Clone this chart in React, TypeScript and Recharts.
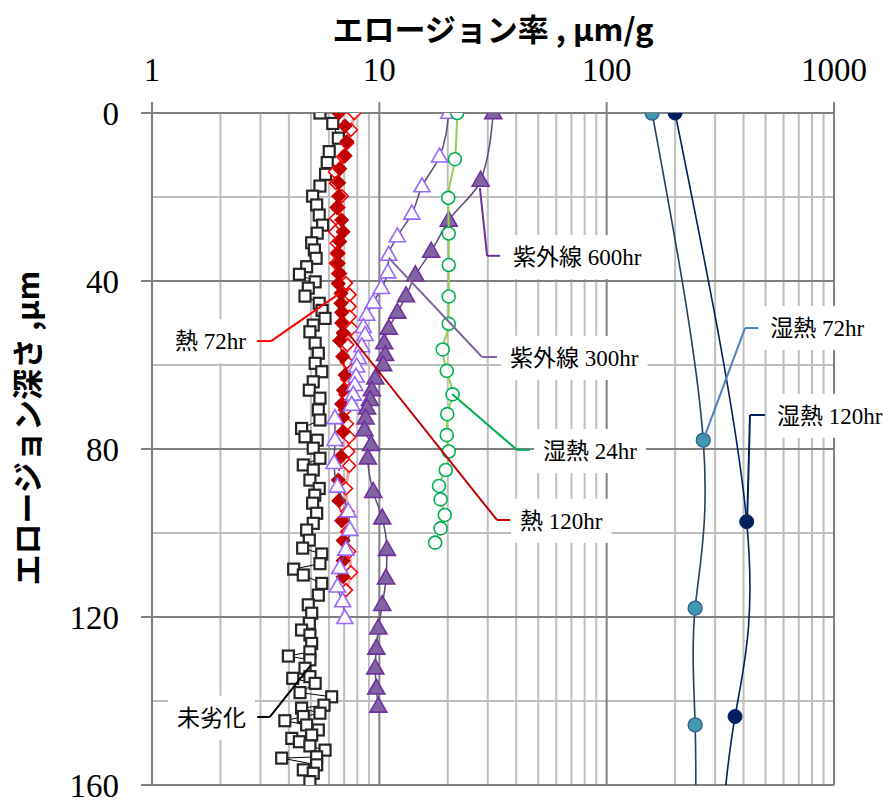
import React from 'react';
import { ScatterChart, Scatter, XAxis, YAxis, ReferenceLine, ReferenceDot } from 'recharts';

// 深さ (μm) とエロージョン率 (μm/g)
const undegradedDepth = [0, 2.5, 6, 9.2, 11.8, 14.6, 17.4, 19.8, 21.9, 24.3, 26.7, 28.6, 30.9, 32.6, 34.6, 36.6, 38.4, 40.2, 41.7, 43.6, 45.3, 47, 48.9, 50.5, 52.1, 54.8, 57.2, 59.6, 61.6, 64, 66, 67.9, 70.7, 73.1, 75.1, 77.1, 77.9, 79.8, 82.2, 83.8, 85, 87.4, 89.4, 91, 92.9, 95.3, 97.7, 99.3, 101.7, 103.6, 105, 107.3, 108.6, 110, 112, 114.8, 117.1, 119.1, 121.5, 123.1, 124.3, 126.3, 128.3, 129.3, 130.2, 132.2, 134.2, 134.6, 135.8, 138, 139, 141, 141.7, 142.9, 143.7, 144.7, 145.7, 146.9, 148.1, 148.9, 149.7, 150.7, 151.7, 153.3, 153.6, 155.2, 156.4, 157.2, 159.2];
const undegradedRate = [5.48, 6.24, 6.6, 6.02, 5.9, 5.8, 5.48, 5.09, 5.3, 5.44, 5.63, 5.33, 5.04, 5.18, 5.27, 4.79, 4.45, 5.22, 4.87, 4.71, 5.44, 5.6, 5.77, 5.12, 4.95, 5.22, 5.39, 5.22, 5.58, 5.12, 4.92, 5.48, 5.39, 5.48, 4.55, 4.71, 5.33, 5.12, 5.48, 4.63, 5.12, 4.95, 5.44, 5.2, 5.09, 5.3, 5.12, 4.79, 4.92, 4.6, 5.58, 5.48, 4.2, 4.63, 5.58, 5.39, 4.87, 5.04, 4.92, 4.55, 4.95, 5.04, 4.95, 3.98, 4.95, 4.71, 4.95, 4.16, 5.22, 4.48, 6.17, 5.71, 4.55, 5.48, 4.63, 3.84, 4.79, 5.39, 5.04, 4.12, 4.45, 4.95, 5.77, 5.3, 3.72, 5.3, 4.63, 5.12, 4.95];

const heat72Depth = [0, 4, 7.2, 10.4, 14, 16.7, 19.8, 22.5, 25.1, 28.3, 31, 33.4, 35.8, 38.2, 40.5, 43.3, 46.1, 48.5, 51.3, 55.2, 59.3, 63.4, 67, 70.7, 74, 77.2, 80.6, 84, 89.4, 94.9, 99.7, 104.4, 109.4, 113.6];
const heat72Rate = [7.76, 7.5, 7.2, 6.93, 6.38, 6.45, 6.83, 6.6, 6.45, 6.4, 6.5, 6.5, 6.45, 6.6, 7.13, 7.4, 7.4, 7.4, 7.56, 7.23, 7.2, 7.23, 7.1, 7.07, 7.2, 7.37, 7.3, 7.37, 7.13, 7.23, 7.23, 7.37, 7.5, 7.13];

const heat120Depth = [0, 3.1, 6.8, 10.2, 13.3, 16.6, 19.8, 22.5, 25.5, 28.3, 30.6, 33.4, 35.8, 38.2, 40.6, 42.9, 45.3, 47.5, 50, 52.4, 54.2, 58, 62.4, 66, 69.3, 72.5, 75.9, 81.8, 87.4, 92.3, 97.1, 101.8, 106.6, 110.4];
const heat120Rate = [6.63, 7.07, 7.2, 7.07, 6.7, 6.63, 6.63, 6.5, 6.83, 6.93, 6.7, 6.6, 6.6, 6.7, 6.6, 6.78, 6.78, 6.83, 6.83, 6.93, 6.7, 6.9, 7.07, 6.95, 6.83, 6.9, 6.93, 6.78, 6.6, 6.64, 6.83, 6.93, 6.93, 6.93];

const uv300Depth = [0, 10.4, 17.5, 24, 29.4, 33.8, 38, 41.7, 45.2, 48.1, 51, 52.9, 55.6, 58.4, 60.4, 62.8, 64.8, 67.1, 69.5, 72.7, 77.9, 83.4, 89, 94.9, 99.3, 104, 108.4, 112.8, 116.3, 120.3];
const uv300Rate = [20.2, 18.4, 15.4, 13.9, 12.0, 11.0, 10.9, 10.2, 9.4, 8.8, 8.5, 8.66, 8.37, 8.09, 7.95, 7.9, 7.8, 7.68, 7.56, 6.38, 6.38, 6.32, 6.54, 7.3, 7.42, 7.13, 6.7, 6.54, 6.9, 7.05];

const uv600Depth = [0, 16.1, 25.6, 33, 38.6, 43.6, 47.5, 51.3, 54.8, 57.6, 60, 63.2, 66, 68.3, 70.3, 72.7, 75.5, 79, 82.2, 90.2, 96.5, 104, 110.8, 117.1, 122.7, 127.5, 132.2, 137, 141.3];
const uv600Rate = [31.7, 27.9, 20.2, 16.9, 14.4, 13.1, 12.0, 11.0, 10.5, 10.6, 10.4, 9.6, 9.27, 9.1, 8.83, 8.7, 8.6, 9.2, 8.9, 9.4, 10.3, 10.8, 10.7, 10.3, 9.9, 9.7, 9.6, 9.7, 9.9];

const humid24Depth = [0, 11, 20.2, 28.7, 36.2, 43.7, 50.2, 56.3, 61.4, 67, 71.7, 76.7, 80.6, 85, 88.8, 92, 95.7, 98.9, 102.3];
const humid24Rate = [22.0, 21.5, 20.1, 20.2, 20.2, 20.2, 20.2, 19.0, 19.8, 21.0, 19.9, 19.8, 20.2, 19.6, 18.3, 18.6, 19.4, 18.6, 17.6];

const humid72Depth = [0, 77.9, 117.9, 145.7, 175];
const humid72Rate = [158.5, 266, 245, 245, 246];

const humid120Depth = [0, 97.3, 143.7, 180];
const humid120Rate = [200, 413, 367, 310];

const xTicks = [1, 10, 100, 1000];
const yTicks = [0, 40, 80, 120, 160];
const xMinor = [2, 3, 4, 5, 6, 7, 8, 9, 20, 30, 40, 50, 60, 70, 80, 90, 200, 300, 400, 500, 600, 700, 800, 900];
const yMinor = [20, 60, 100, 140];

// 注記ラベル: 文字位置 (率, 深さ) と引出線の折れ点
const labelText = ['未劣化', '熱 72hr', '熱 120hr', '紫外線 300hr', '紫外線 600hr', '湿熱 24hr', '湿熱 72hr', '湿熱 120hr'];
const labelAt: [number, number][] = [[2.59, 144], [2.59, 54.3], [41.6, 97.1], [37.6, 58.3], [38.7, 34.3], [52.5, 80.5], [524, 51.2], [562, 72.1]];
const labelEnd = [true, true, false, false, false, false, false, false];
const calloutPath: [number, number][][] = [
  [[4.96, 131.7], [3.3, 143.8], [2.9, 143.8]],
  [[6.72, 42.9], [3.34, 54.3], [2.9, 54.3]],
  [[6.72, 50], [32.9, 96.9], [37.6, 96.9]],
  [[11.0, 34.5], [28.3, 58.1], [32.9, 58.1]],
  [[27.7, 17.9], [29.8, 34.0], [34.0, 34.0]],
  [[20.9, 66.9], [40.3, 80.2], [46.0, 80.2]],
  [[266, 77.9], [406, 51.2], [464, 51.2]],
  [[415, 97.1], [427, 71.9], [497, 71.9]],
];
const calloutColor = ['#000000', '#ff0000', '#c00000', '#8064a2', '#7030a0', '#00b050', '#4f81bd', '#002060'];

const toPts = (d: number[], v: number[]) => d.map((y, i) => ({ d: y, v: v[i] }));

const serif = '"Liberation Serif", "Times New Roman", "Noto Sans CJK JP", serif';
const gothic = '"Noto Sans CJK JP", "Noto Sans", sans-serif';

const squareShape = (p: any) => (
  <rect x={p.cx - 5.5} y={p.cy - 5.5} width={11} height={11} fill="#ffffff" stroke="#262626" strokeWidth={2.2} />
);
const diamondShape = (fill: string, stroke: string, r: number) => (p: any) => (
  <path d={`M${p.cx},${p.cy - r}L${p.cx + r},${p.cy}L${p.cx},${p.cy + r}L${p.cx - r},${p.cy}Z`} fill={fill} stroke={stroke} strokeWidth={1.6} />
);
const triangleShape = (fill: string, stroke: string, w: number) => (p: any) => {
  const h = w * 0.87;
  return (
    <path d={`M${p.cx},${p.cy - h * 0.62}L${p.cx + w / 2},${p.cy + h * 0.38}L${p.cx - w / 2},${p.cy + h * 0.38}Z`} fill={fill} stroke={stroke} strokeWidth={1.6} />
  );
};
const circleShape = (fill: string, stroke: string, r: number, sw: number) => (p: any) => (
  <circle cx={p.cx} cy={p.cy} r={r} fill={fill} stroke={stroke} strokeWidth={sw} />
);

const textWidth = (s: string, size: number) => {
  let w = 0;
  for (const ch of s) {
    if (ch === ' ') w += size * 0.25;
    else if (/[0-9h]/.test(ch)) w += size * 0.5;
    else if (ch === 'r') w += size * 0.333;
    else w += size;
  }
  return w;
};

function LabelBox({ cx, cy, text, end }: { cx: number; cy: number; text: string; end: boolean }) {
  const size = 23;
  const w = textWidth(text, size);
  const x0 = end ? cx - w : cx;
  return (
    <g>
      <rect x={x0 - 9} y={cy - 22} width={w + 18} height={44} fill="#ffffff" />
      <text x={x0} y={cy} dy="0.36em" fontSize={size} fontFamily={serif} fill="#000000">
        {text}
      </text>
    </g>
  );
}

export default function App() {
  return (
    <div style={{ position: 'absolute', left: 0, top: 0, width: 891, height: 807, background: '#ffffff' }}>
      <ScatterChart width={891} height={807} margin={{ top: 0, right: 57, bottom: 22, left: 0 }}>
        <XAxis
          type="number"
          dataKey="v"
          scale="log"
          domain={[1, 1000]}
          ticks={xTicks}
          orientation="top"
          height={113}
          allowDataOverflow
          axisLine={false}
          tickSize={11}
          tickLine={{ stroke: '#808080', strokeWidth: 2 }}
          tick={(p: any) => (
            <text x={p.x} y={81} textAnchor="middle" fontSize={33} fontFamily={serif} fill="#000000">
              {p.payload.value}
            </text>
          )}
        />
        <YAxis
          type="number"
          dataKey="d"
          domain={[0, 160]}
          ticks={yTicks}
          reversed
          width={152}
          allowDataOverflow
          axisLine={false}
          tickSize={11}
          tickLine={{ stroke: '#808080', strokeWidth: 2 }}
          tick={(p: any) => (
            <text x={119} y={p.y} dy="0.36em" textAnchor="end" fontSize={33} fontFamily={serif} fill="#000000">
              {p.payload.value}
            </text>
          )}
        />
        {xMinor.map((v) => (
          <ReferenceLine key={`xm${v}`} x={v} stroke="#bfbfbf" strokeWidth={2} zIndex={-100} />
        ))}
        {yMinor.map((v) => (
          <ReferenceLine key={`ym${v}`} y={v} stroke="#bfbfbf" strokeWidth={2} zIndex={-100} />
        ))}
        {xTicks.map((v) => (
          <ReferenceLine key={`xM${v}`} x={v} stroke="#808080" strokeWidth={2} zIndex={-90} />
        ))}
        {yTicks.map((v) => (
          <ReferenceLine key={`yM${v}`} y={v} stroke="#808080" strokeWidth={2} zIndex={-90} />
        ))}
        {labelText.map((t, i) => (
          <ReferenceDot
            key={`lb${i}`}
            x={labelAt[i][0]}
            y={labelAt[i][1]}
            r={0}
            zIndex={-80}
            shape={(p: any) => <LabelBox cx={p.cx} cy={p.cy} text={t} end={labelEnd[i]} />}
          />
        ))}
        <Scatter
          name="未劣化"
          data={toPts(undegradedDepth, undegradedRate)}
          line={{ stroke: '#000000', strokeWidth: 1 }}
          shape={squareShape}
          isAnimationActive={false}
        />
        <Scatter
          name="熱 72hr"
          data={toPts(heat72Depth, heat72Rate)}
          line={{ stroke: '#f4a0a0', strokeWidth: 3 }}
          lineJointType="monotoneY"
          shape={diamondShape('#ffffff', '#ff0000', 6.5)}
          isAnimationActive={false}
        />
        <Scatter
          name="熱 120hr"
          data={toPts(heat120Depth, heat120Rate)}
          line={{ stroke: '#ff0000', strokeWidth: 1.6, strokeDasharray: '5 3' }}
          lineJointType="monotoneY"
          shape={diamondShape('#c00000', '#c00000', 6.5)}
          isAnimationActive={false}
        />
        <Scatter
          name="紫外線 300hr"
          data={toPts(uv300Depth, uv300Rate)}
          line={{ stroke: '#5f497a', strokeWidth: 1.5 }}
          lineJointType="monotoneY"
          shape={triangleShape('#ffffff', '#9966ff', 16)}
          isAnimationActive={false}
        />
        <Scatter
          name="紫外線 600hr"
          data={toPts(uv600Depth, uv600Rate)}
          line={{ stroke: '#5f497a', strokeWidth: 1.5 }}
          lineJointType="monotoneY"
          shape={triangleShape('#8064a2', '#7030a0', 17)}
          isAnimationActive={false}
        />
        <Scatter
          name="湿熱 24hr"
          data={toPts(humid24Depth, humid24Rate)}
          line={{ stroke: '#92d050', strokeWidth: 2 }}
          lineJointType="monotoneY"
          shape={circleShape('#ffffff', '#00b050', 6.5, 1.6)}
          isAnimationActive={false}
        />
        <Scatter
          name="湿熱 72hr"
          data={toPts(humid72Depth, humid72Rate)}
          line={{ stroke: '#254061', strokeWidth: 1.6 }}
          lineJointType="natural"
          shape={circleShape('#4198b0', '#2e5b8a', 7, 1.3)}
          isAnimationActive={false}
        />
        <Scatter
          name="湿熱 120hr"
          data={toPts(humid120Depth, humid120Rate)}
          line={{ stroke: '#002060', strokeWidth: 1.6 }}
          lineJointType="natural"
          shape={circleShape('#002060', '#002060', 7, 1)}
          isAnimationActive={false}
        />
        {calloutPath.flatMap((path, i) =>
          path.slice(1).map((pt, j) => (
            <ReferenceLine
              key={`co${i}-${j}`}
              segment={[
                { x: path[j][0], y: path[j][1] },
                { x: pt[0], y: pt[1] },
              ]}
              stroke={calloutColor[i]}
              strokeWidth={2}
              zIndex={1500}
            />
          ))
        )}
      </ScatterChart>
      <svg width={891} height={807} style={{ position: 'absolute', left: 0, top: 0, pointerEvents: 'none' }}>
        <text x={493} y={30} dy="0.36em" textAnchor="middle" fontSize={31} fontWeight="bold" fontFamily={gothic} fill="#000000">
          エロージョン率 , μm/g
        </text>
        <text
          x={28}
          y={428}
          dy="0.36em"
          textAnchor="middle"
          fontSize={31}
          fontWeight="bold"
          fontFamily={gothic}
          fill="#000000"
          transform="rotate(-90 28 428)"
        >
          エロージョン深さ ,μm
        </text>
      </svg>
    </div>
  );
}
